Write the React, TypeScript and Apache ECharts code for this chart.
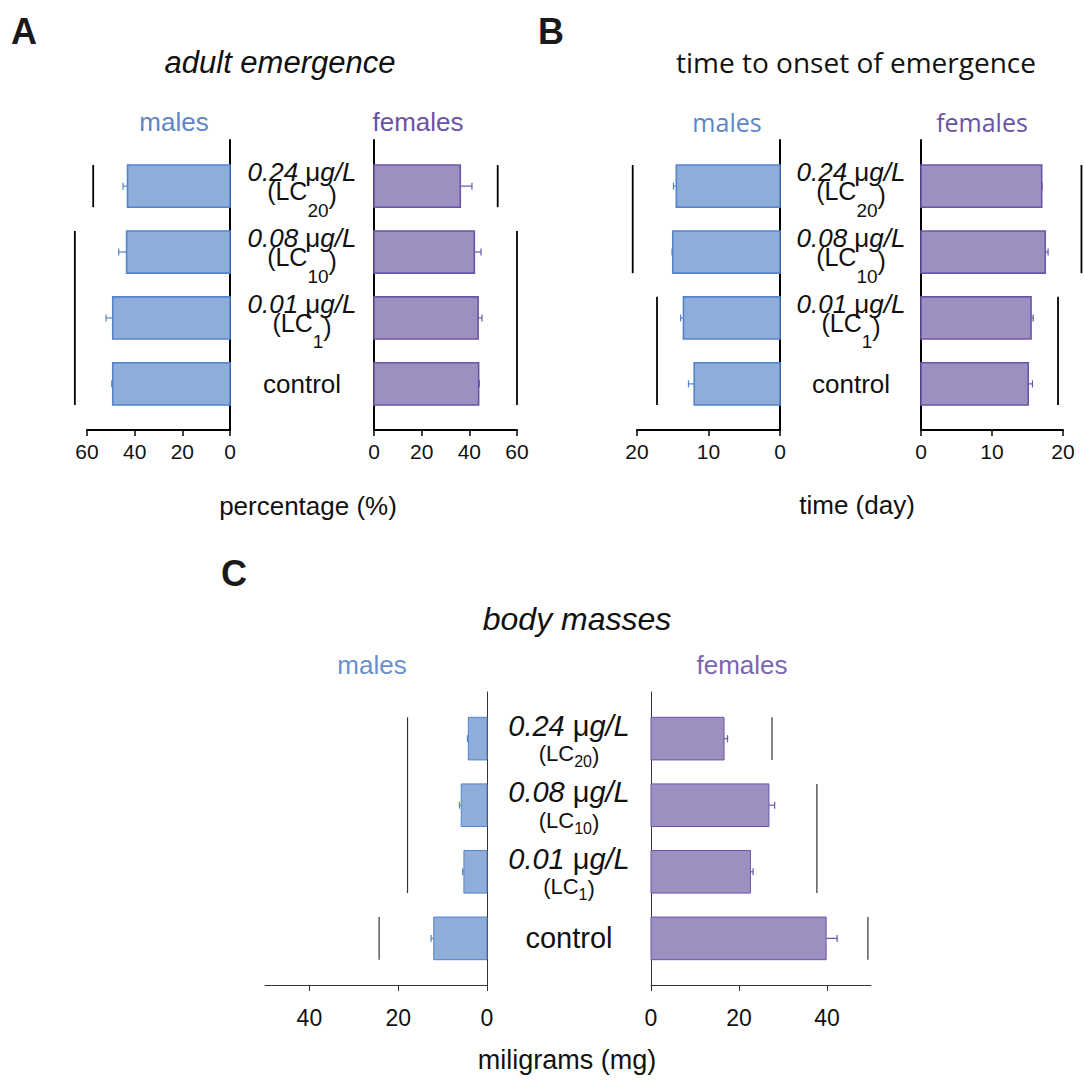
import React, { useEffect, useRef } from "react";
import * as echarts from "echarts";

// Treatment rows, top to bottom
const doses = ["0.24", "0.08", "0.01", "control"];
const lcLevels = ["20", "10", "1", ""];

// A: adult emergence (%)
const emergenceMales = [43.0, 43.4, 49.2, 49.2];
const emergenceMalesErr = [1.9, 3.3, 2.8, 0.4];
const emergenceFemales = [36.2, 42.1, 43.7, 43.9];
const emergenceFemalesErr = [4.9, 2.8, 1.6, 0.3];

// B: time to onset of emergence (day)
const onsetMales = [14.5, 15.0, 13.5, 12.0];
const onsetMalesErr = [0.4, 0.1, 0.4, 0.8];
const onsetFemales = [17.0, 17.5, 15.5, 15.1];
const onsetFemalesErr = [0.05, 0.4, 0.3, 0.6];

// C: body masses (mg)
const massMales = [4.2, 5.8, 5.2, 12.0];
const massMalesErr = [0.2, 0.4, 0.3, 0.6];
const massFemales = [16.6, 26.8, 22.6, 39.8];
const massFemalesErr = [0.8, 1.3, 0.6, 2.5];

// Grouping brackets: [position on value axis, first row, last row]
const emergenceMalesGroups = [[57.4, 0, 0], [65.1, 1, 3]];
const emergenceFemalesGroups = [[51.9, 0, 0], [60.0, 1, 3]];
const onsetMalesGroups = [[20.6, 0, 1], [17.2, 2, 3]];
const onsetFemalesGroups = [[22.6, 0, 1], [19.3, 2, 3]];
const massMalesGroups = [[17.9, 0, 2], [24.3, 3, 3]];
const massFemalesGroups = [[27.5, 0, 0], [37.7, 1, 2], [49.3, 3, 3]];

// Axis ticks
const emergenceTicks = [0, 20, 40, 60];
const onsetTicks = [0, 10, 20];
const massTicks = [0, 20, 40];

const ARIAL = '"Liberation Sans", Arial, Helvetica, sans-serif';
const MYRIAD = '"Open Sans", "Noto Sans", sans-serif';

const MALE_FILL = "#8fadd9";
const MALE_STROKE = "#5383cc";
const FEMALE_FILL = "#9d90c0";
const FEMALE_STROKE = "#6a56a8";
const MALE_TEXT = "#5b87c8";
const FEMALE_TEXT = "#6a52a6";

const BAR_H = 0.64;

function barRenderer(fill: string, stroke: string, lw: number) {
  return (_params: any, api: any) => {
    const idx = api.value(0);
    const val = api.value(1);
    const err = api.value(2);
    const p0 = api.coord([0, idx]);
    const p1 = api.coord([val, idx]);
    const pe = api.coord([val + err, idx]);
    const h = api.size([0, BAR_H])[1];
    const x = Math.min(p0[0], p1[0]);
    const w = Math.abs(p1[0] - p0[0]);
    return {
      type: "group",
      children: [
        {
          type: "rect",
          shape: { x, y: p0[1] - h / 2, width: w, height: h },
          style: { fill, stroke, lineWidth: lw },
        },
        {
          type: "line",
          shape: { x1: p1[0], y1: p1[1], x2: pe[0], y2: pe[1] },
          style: { stroke, lineWidth: 1.2 },
        },
        {
          type: "line",
          shape: { x1: pe[0], y1: pe[1] - 3.5, x2: pe[0], y2: pe[1] + 3.5 },
          style: { stroke, lineWidth: 1.2 },
        },
      ],
    };
  };
}

function groupRenderer(color: string, lw: number) {
  return (_params: any, api: any) => {
    const x = api.value(0);
    const a = api.coord([x, api.value(1) - BAR_H / 2]);
    const b = api.coord([x, api.value(2) + BAR_H / 2]);
    return {
      type: "line",
      shape: { x1: a[0], y1: a[1], x2: b[0], y2: b[1] },
      style: { stroke: color, lineWidth: lw },
    };
  };
}

function barSeries(gi: number, vals: number[], errs: number[], fill: string, stroke: string, lw: number) {
  return {
    type: "custom",
    xAxisIndex: gi,
    yAxisIndex: gi,
    clip: false,
    encode: { x: 1, y: 0 },
    data: vals.map((v, i) => [i, v, errs[i]]),
    renderItem: barRenderer(fill, stroke, lw),
    z: 3,
  };
}

function groupSeries(gi: number, groups: number[][], color: string, lw: number) {
  return {
    type: "custom",
    xAxisIndex: gi,
    yAxisIndex: gi,
    clip: false,
    encode: { x: 0, y: [1, 2] },
    data: groups,
    renderItem: groupRenderer(color, lw),
    z: 2,
  };
}

function rowLabel(idx: number): string {
  const d = doses[idx];
  if (!lcLevels[idx]) return `{c|${d}}`;
  return `{i|${d} }{m|\u03bc}{i|g/L}\n{n|(LC}{s|${lcLevels[idx]}}{p|)}`;
}

// Two-line dose labels; the LC index sits lower as a subscript
const richAB = {
  i: { fontFamily: ARIAL, fontSize: 26, fontStyle: "italic", lineHeight: 19.5, verticalAlign: "top", color: "#111" },
  m: { fontFamily: ARIAL, fontSize: 26, fontStyle: "normal", lineHeight: 19.5, verticalAlign: "top", color: "#111" },
  n: { fontFamily: ARIAL, fontSize: 25, lineHeight: 34.5, verticalAlign: "top", color: "#111" },
  p: { fontFamily: ARIAL, fontSize: 25, lineHeight: 25, padding: [4, 0, 0, 0], verticalAlign: "top", color: "#111" },
  s: { fontFamily: ARIAL, fontSize: 19, lineHeight: 19, padding: [22, 0, 0, 0], verticalAlign: "top", color: "#111" },
  c: { fontFamily: ARIAL, fontSize: 26, lineHeight: 26, color: "#111" },
};

const richC = {
  i: { fontFamily: ARIAL, fontSize: 29, fontStyle: "italic", lineHeight: 31.5, verticalAlign: "top", color: "#111" },
  m: { fontFamily: ARIAL, fontSize: 29, fontStyle: "normal", lineHeight: 31.5, verticalAlign: "top", color: "#111" },
  n: { fontFamily: ARIAL, fontSize: 22, lineHeight: 23.5, verticalAlign: "top", color: "#111" },
  p: { fontFamily: ARIAL, fontSize: 22, lineHeight: 22, padding: [2, 0, 0, 0], verticalAlign: "top", color: "#111" },
  s: { fontFamily: ARIAL, fontSize: 16, lineHeight: 16, padding: [11, 0, 0, 0], verticalAlign: "top", color: "#111" },
  c: { fontFamily: ARIAL, fontSize: 29, lineHeight: 29, color: "#111" },
};

type Panel = {
  left: number; width: number; top: number; height: number;
  male: boolean; max: number; interval: number; ticks: number[];
  axisColor: string; axisWidth: number; labelMargin: number; tickFont: number;
  rowLabels?: { margin: number; rich: any };
};

const panels: Panel[] = [
  { left: 87, width: 143, top: 140, height: 290, male: true, max: 60, interval: 20, ticks: emergenceTicks, axisColor: "#000", axisWidth: 2, labelMargin: 11, tickFont: 21 },
  { left: 374, width: 143, top: 140, height: 290, male: false, max: 60, interval: 20, ticks: emergenceTicks, axisColor: "#000", axisWidth: 2, labelMargin: 11, tickFont: 21, rowLabels: { margin: 72, rich: richAB } },
  { left: 637, width: 143, top: 140, height: 290, male: true, max: 20, interval: 10, ticks: onsetTicks, axisColor: "#000", axisWidth: 2, labelMargin: 11, tickFont: 21 },
  { left: 921, width: 142, top: 140, height: 290, male: false, max: 20, interval: 10, ticks: onsetTicks, axisColor: "#000", axisWidth: 2, labelMargin: 11, tickFont: 21, rowLabels: { margin: 70, rich: richAB } },
  { left: 265, width: 222, top: 692, height: 293, male: true, max: 50, interval: 20, ticks: massTicks, axisColor: "#333", axisWidth: 1, labelMargin: 21, tickFont: 23 },
  { left: 651, width: 220, top: 692, height: 293, male: false, max: 50, interval: 20, ticks: massTicks, axisColor: "#333", axisWidth: 1, labelMargin: 21, tickFont: 23, rowLabels: { margin: 82, rich: richC } },
];

function textEl(text: string, x: number, y: number, font: string, fill: string) {
  return {
    type: "text",
    x,
    y,
    silent: true,
    style: { text, font, fill, align: "center", verticalAlign: "middle", textAlign: "center", textVerticalAlign: "middle" },
  };
}

function buildOption() {
  const grid = panels.map((p) => ({ left: p.left, width: p.width, top: p.top, height: p.height, containLabel: false, outerBoundsMode: "none" }));
  const xAxis = panels.map((p, i) => ({
    type: "value",
    gridIndex: i,
    min: 0,
    max: p.max,
    interval: p.interval,
    inverse: p.male,
    position: "bottom",
    splitLine: { show: false },
    axisLine: { show: true, onZero: false, lineStyle: { color: p.axisColor, width: p.axisWidth } },
    axisTick: { show: true, inside: false, length: 6, customValues: p.ticks, lineStyle: { color: p.axisColor, width: p.axisWidth === 2 ? 1.5 : 1 } },
    axisLabel: { show: true, margin: p.labelMargin, customValues: p.ticks, fontFamily: ARIAL, fontSize: p.tickFont, color: "#111" },
  }));
  const yAxis = panels.map((p, i) => ({
    type: "value",
    gridIndex: i,
    min: -0.7,
    max: 3.7,
    inverse: true,
    position: p.male ? "right" : "left",
    splitLine: { show: false },
    axisTick: { show: false },
    axisLine: { show: true, onZero: false, lineStyle: { color: p.axisColor, width: p.axisWidth } },
    axisLabel: p.rowLabels
      ? {
          show: true,
          customValues: [0, 1, 2, 3],
          margin: p.rowLabels.margin,
          align: "center",
          verticalAlign: "middle",
          hideOverlap: false,
          formatter: (v: number) => rowLabel(Math.round(v)),
          rich: p.rowLabels.rich,
        }
      : { show: false },
  }));

  const series = [
    barSeries(0, emergenceMales, emergenceMalesErr, MALE_FILL, MALE_STROKE, 1.6),
    barSeries(1, emergenceFemales, emergenceFemalesErr, FEMALE_FILL, FEMALE_STROKE, 1.6),
    barSeries(2, onsetMales, onsetMalesErr, MALE_FILL, MALE_STROKE, 1.6),
    barSeries(3, onsetFemales, onsetFemalesErr, FEMALE_FILL, FEMALE_STROKE, 1.6),
    barSeries(4, massMales, massMalesErr, MALE_FILL, MALE_STROKE, 1),
    barSeries(5, massFemales, massFemalesErr, FEMALE_FILL, FEMALE_STROKE, 1),
    groupSeries(0, emergenceMalesGroups, "#000", 1.8),
    groupSeries(1, emergenceFemalesGroups, "#000", 1.8),
    groupSeries(2, onsetMalesGroups, "#000", 1.8),
    groupSeries(3, onsetFemalesGroups, "#000", 1.8),
    groupSeries(4, massMalesGroups, "#333", 1.2),
    groupSeries(5, massFemalesGroups, "#333", 1.2),
  ];

  const graphic = [
    textEl("A", 24, 31, `bold 36px ${ARIAL}`, "#1a1a1a"),
    textEl("B", 551, 31, `bold 36px ${ARIAL}`, "#1a1a1a"),
    textEl("C", 234, 573, `bold 36px ${ARIAL}`, "#1a1a1a"),
    textEl("adult emergence", 280, 62, `italic 31px ${ARIAL}`, "#111"),
    textEl("time to onset of emergence", 856, 62, `28px ${MYRIAD}`, "#111"),
    textEl("body masses", 577, 619, `italic 32px ${ARIAL}`, "#111"),
    textEl("males", 174, 122, `26px ${ARIAL}`, MALE_TEXT),
    textEl("females", 418, 122, `26px ${ARIAL}`, FEMALE_TEXT),
    textEl("males", 727, 122, `25px ${MYRIAD}`, MALE_TEXT),
    textEl("females", 982, 122, `25px ${MYRIAD}`, FEMALE_TEXT),
    textEl("males", 372, 665, `26px ${ARIAL}`, "#6a90cc"),
    textEl("females", 742, 665, `26px ${ARIAL}`, "#7a66b0"),
    textEl("percentage (%)", 308, 506, `26px ${ARIAL}`, "#111"),
    textEl("time (day)", 857, 505, `26px ${ARIAL}`, "#111"),
    textEl("miligrams (mg)", 567, 1060, `27px ${ARIAL}`, "#111"),
  ];

  return {
    animation: false,
    backgroundColor: "#fff",
    textStyle: { fontFamily: ARIAL },
    grid,
    xAxis,
    yAxis,
    series,
    graphic,
  };
}

export default function App() {
  const ref = useRef<HTMLDivElement | null>(null);
  useEffect(() => {
    if (!ref.current) return;
    const chart = echarts.init(ref.current, undefined, { renderer: "svg" });
    chart.setOption(buildOption() as any);
    return () => chart.dispose();
  }, []);
  return (
    <div
      ref={ref}
      style={{ position: "absolute", left: 0, top: 0, width: 1084, height: 1081, background: "#fff" }}
    />
  );
}
